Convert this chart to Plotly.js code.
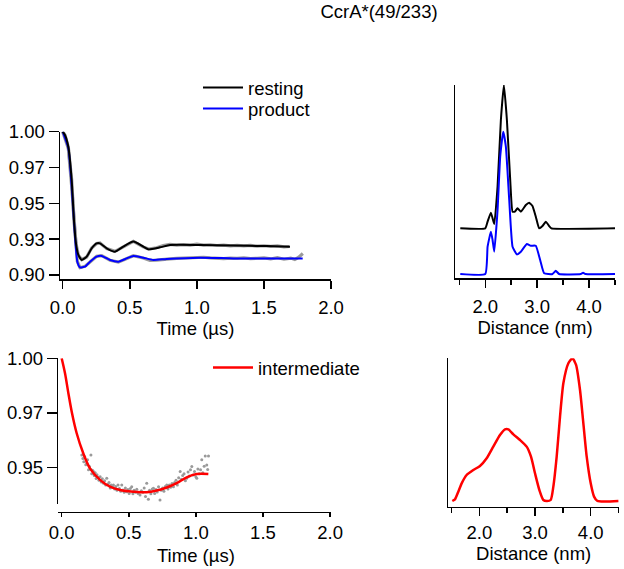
<!DOCTYPE html>
<html>
<head>
<meta charset="utf-8">
<script src="https://cdn.plot.ly/plotly-3.0.1.min.js"></script>
<style>html,body{margin:0;padding:0;background:#fff}#chart{width:624px;height:569px}</style>
</head>
<body>
<div id="chart"></div>
<script>
// ---- Top-left: time traces (resting / product) ----
const restFitT = [0, 0.017, 0.042, 0.067, 0.084, 0.099, 0.117, 0.142, 0.179, 0.216, 0.253, 0.278, 0.328, 0.39, 0.452, 0.527, 0.601, 0.639, 0.725, 0.8, 1.024, 1.272, 1.52, 1.694];
const restFitV = [1.0, 0.9977, 0.9895, 0.9663, 0.9384, 0.9221, 0.914, 0.9105, 0.9128, 0.9186, 0.9221, 0.9221, 0.9186, 0.9163, 0.9198, 0.9233, 0.9198, 0.9179, 0.9193, 0.9209, 0.9209, 0.9205, 0.9202, 0.9198];
const prodFitT = [0, 0.042, 0.067, 0.092, 0.109, 0.129, 0.166, 0.204, 0.253, 0.291, 0.353, 0.415, 0.477, 0.527, 0.601, 0.676, 0.775, 1.024, 1.272, 1.52, 1.789];
const prodFitV = [1.0, 0.9884, 0.9616, 0.9267, 0.9093, 0.9053, 0.9058, 0.9093, 0.9128, 0.9133, 0.9105, 0.9093, 0.9116, 0.9133, 0.9121, 0.9105, 0.9112, 0.9121, 0.9116, 0.9116, 0.9116];
const restDataT = [0, 0.017, 0.042, 0.067, 0.084, 0.099, 0.117, 0.142, 0.179, 0.216, 0.253, 0.278, 0.328, 0.39, 0.452, 0.527, 0.60, 0.64, 0.70, 0.75, 0.80, 0.85, 0.90, 0.95, 1.00, 1.05, 1.10, 1.15, 1.20, 1.25, 1.30, 1.35, 1.40, 1.45, 1.50, 1.55, 1.60, 1.65, 1.69];
const restDataV = [1.0, 0.9977, 0.9893, 0.9665, 0.9382, 0.9223, 0.9138, 0.9107, 0.9126, 0.9188, 0.9219, 0.9223, 0.9184, 0.9165, 0.9196, 0.9235, 0.9196, 0.9181, 0.9190, 0.9205, 0.9213, 0.9208, 0.9212, 0.9209, 0.9216, 0.9208, 0.9211, 0.9206, 0.9209, 0.9204, 0.9207, 0.9203, 0.9206, 0.9201, 0.9204, 0.9200, 0.9203, 0.9197, 0.9199];
const prodDataT = [0, 0.042, 0.067, 0.092, 0.109, 0.129, 0.166, 0.204, 0.253, 0.291, 0.353, 0.415, 0.477, 0.527, 0.60, 0.65, 0.70, 0.75, 0.80, 0.85, 0.90, 0.95, 1.00, 1.05, 1.10, 1.15, 1.20, 1.25, 1.30, 1.35, 1.40, 1.45, 1.50, 1.55, 1.60, 1.65, 1.70, 1.73, 1.76, 1.79];
const prodDataV = [1.0, 0.9882, 0.9618, 0.9265, 0.9095, 0.9051, 0.9060, 0.9091, 0.9130, 0.9135, 0.9103, 0.9090, 0.9118, 0.9135, 0.9119, 0.9102, 0.9104, 0.9110, 0.9113, 0.9116, 0.9118, 0.9121, 0.9120, 0.9124, 0.9119, 0.9116, 0.9114, 0.9118, 0.9116, 0.9120, 0.9114, 0.9117, 0.9119, 0.9112, 0.9121, 0.9110, 0.9118, 0.9108, 0.9125, 0.9150];

// ---- Top-right: distance distributions ----
const restDistR = [1.519, 2.0, 2.045, 2.109, 2.173, 2.237, 2.301, 2.359, 2.417, 2.481, 2.526, 2.571, 2.622, 2.686, 2.782, 2.846, 2.91, 2.974, 3.038, 3.103, 3.167, 3.231, 3.276, 4.5];
const restDistP = [0, 0, 0.047, 0.11, 0.03, 0.293, 0.761, 1.007, 0.761, 0.34, 0.117, 0.117, 0.141, 0.117, 0.164, 0.18, 0.157, 0.082, 0, 0.016, 0.047, 0.016, 0, 0];
const restOffset = 0.321;
const prodDistR = [1.519, 2.0, 2.045, 2.109, 2.141, 2.173, 2.237, 2.288, 2.346, 2.397, 2.462, 2.526, 2.609, 2.686, 2.801, 2.878, 2.974, 3.058, 3.135, 3.295, 3.359, 3.423, 3.84, 3.885, 3.93, 4.5];
const prodDistP = [0, 0, 0.192, 0.297, 0.239, 0.157, 0.45, 0.824, 1.0, 0.895, 0.52, 0.192, 0.138, 0.157, 0.211, 0.199, 0.199, 0.098, 0.005, 0, 0.023, 0, 0, 0.009, 0, 0];

// ---- Bottom-left: intermediate time trace ----
const interFitT = [0, 0.025, 0.05, 0.075, 0.112, 0.161, 0.211, 0.286, 0.36, 0.435, 0.534, 0.634, 0.708, 0.783, 0.857, 0.932, 1.006, 1.093];
const interFitV = [1.0, 0.9931, 0.984, 0.9755, 0.9656, 0.9564, 0.9495, 0.9442, 0.9411, 0.9396, 0.9388, 0.9385, 0.9393, 0.9407, 0.9427, 0.9454, 0.9469, 0.9469];
const interDataT = [0.150, 0.158, 0.165, 0.172, 0.180, 0.187, 0.193, 0.200, 0.207, 0.213, 0.218, 0.224, 0.230, 0.237, 0.243, 0.250, 0.257, 0.263, 0.270, 0.278, 0.287, 0.295, 0.303, 0.312, 0.320, 0.328, 0.336, 0.345, 0.353, 0.362, 0.370, 0.378, 0.386, 0.395, 0.403, 0.412, 0.420, 0.430, 0.440, 0.448, 0.457, 0.466, 0.475, 0.485, 0.494, 0.503, 0.512, 0.522, 0.531, 0.540, 0.550, 0.560, 0.570, 0.584, 0.594, 0.605, 0.615, 0.625, 0.634, 0.646, 0.655, 0.665, 0.675, 0.684, 0.693, 0.703, 0.712, 0.722, 0.733, 0.742, 0.752, 0.762, 0.772, 0.783, 0.792, 0.802, 0.812, 0.822, 0.833, 0.842, 0.852, 0.862, 0.872, 0.883, 0.892, 0.902, 0.912, 0.922, 0.932, 0.942, 0.951, 0.960, 0.970, 0.980, 0.990, 1.000, 1.007, 1.015, 1.025, 1.035, 1.044, 1.052, 1.062, 1.070, 1.081, 1.088, 1.094];
const interDataV = [0.9556, 0.9540, 0.9525, 0.9548, 0.9512, 0.9518, 0.9535, 0.9488, 0.9503, 0.9492, 0.9556, 0.9470, 0.9486, 0.9480, 0.9462, 0.9475, 0.9448, 0.9466, 0.9455, 0.9440, 0.9457, 0.9432, 0.9447, 0.9427, 0.9438, 0.9418, 0.9450, 0.9422, 0.9430, 0.9405, 0.9418, 0.9410, 0.9419, 0.9400, 0.9412, 0.9395, 0.9418, 0.9402, 0.9390, 0.9419, 0.9396, 0.9385, 0.9405, 0.9388, 0.9398, 0.9380, 0.9402, 0.9411, 0.9378, 0.9395, 0.9385, 0.9399, 0.9380, 0.9373, 0.9392, 0.9385, 0.9405, 0.9366, 0.9427, 0.9353, 0.9395, 0.9378, 0.9400, 0.9404, 0.9380, 0.9398, 0.9386, 0.9410, 0.9350, 0.9395, 0.9405, 0.9390, 0.9412, 0.9419, 0.9400, 0.9418, 0.9408, 0.9425, 0.9411, 0.9430, 0.9440, 0.9418, 0.9452, 0.9480, 0.9445, 0.9462, 0.9470, 0.9438, 0.9450, 0.9478, 0.9460, 0.9488, 0.9503, 0.9465, 0.9480, 0.9456, 0.9450, 0.9492, 0.9470, 0.9488, 0.9534, 0.9475, 0.9505, 0.9552, 0.9510, 0.9490, 0.9552];

// ---- Bottom-right: intermediate distance distribution ----
const interDistR = [1.515, 1.563, 1.623, 1.683, 1.772, 1.892, 2.012, 2.132, 2.251, 2.371, 2.461, 2.521, 2.611, 2.731, 2.85, 2.928, 3.0, 3.078, 3.15, 3.21, 3.281, 3.329, 3.389, 3.449, 3.509, 3.599, 3.671, 3.737, 3.808, 3.868, 3.928, 4.0, 4.06, 4.12, 4.497];
const interDistP = [0, 0.0117, 0.0654, 0.1238, 0.1822, 0.2173, 0.2453, 0.2991, 0.3808, 0.4626, 0.5023, 0.5023, 0.4673, 0.4276, 0.3808, 0.3107, 0.1939, 0.0771, 0.007, 0, 0.007, 0.1005, 0.3107, 0.5911, 0.8248, 0.965, 1.0, 0.9533, 0.778, 0.5444, 0.3107, 0.1238, 0.0304, 0, 0];

// ---- Tick labels ----
const timeTicks = [0, 0.5, 1.0, 1.5, 2.0];
const timeTickText = ["0.0", "0.5", "1.0", "1.5", "2.0"];
const topYTicks = [0.9, 0.925, 0.95, 0.975, 1.0];
const topYTickText = ["0.90", "0.93", "0.95", "0.97", "1.00"];
const botYTicks = [0.95, 0.975, 1.0];
const botYTickText = ["0.95", "0.97", "1.00"];
const distTicks = [2, 3, 4];
const distTickText = ["2.0", "3.0", "4.0"];
const distMinorTicks = [1.5, 2.5, 3.5, 4.5];

const W = 624, H = 569;
const px = v => v / W;
const py = v => 1 - v / H;

const FONT = "Liberation Sans, Arial, sans-serif";
const FS = 18.5;
const GREY = "#9a9a9a";

const traces = [
  {x: restDataT, y: restDataV, xaxis: 'x', yaxis: 'y', mode: 'lines', line: {color: GREY, width: 3.2}, showlegend: false, hoverinfo: 'skip'},
  {x: prodDataT, y: prodDataV, xaxis: 'x', yaxis: 'y', mode: 'lines', line: {color: GREY, width: 3.2}, showlegend: false, hoverinfo: 'skip'},
  {x: prodFitT, y: prodFitV, xaxis: 'x', yaxis: 'y', mode: 'lines', line: {color: '#0000ff', width: 2, shape: 'spline', smoothing: 0.5}, name: 'product', legend: 'legend3'},
  {x: restFitT, y: restFitV, xaxis: 'x', yaxis: 'y', mode: 'lines', line: {color: '#000000', width: 2, shape: 'spline', smoothing: 0.5}, name: 'resting', legend: 'legend'},
  {x: restDistR, y: restDistP.map(v => v + restOffset), xaxis: 'x2', yaxis: 'y2', mode: 'lines', line: {color: '#000000', width: 2, shape: 'spline', smoothing: 0.4}, showlegend: false},
  {x: prodDistR, y: prodDistP, xaxis: 'x2', yaxis: 'y2', mode: 'lines', line: {color: '#0000ff', width: 2, shape: 'spline', smoothing: 0.4}, showlegend: false},
  {x: interDataT, y: interDataV, xaxis: 'x3', yaxis: 'y3', mode: 'markers', marker: {color: GREY, size: 3}, showlegend: false, hoverinfo: 'skip'},
  {x: interFitT, y: interFitV, xaxis: 'x3', yaxis: 'y3', mode: 'lines', line: {color: '#ff0000', width: 2.5, shape: 'spline'}, name: 'intermediate', legend: 'legend2'},
  {x: interDistR, y: interDistP, xaxis: 'x4', yaxis: 'y4', mode: 'lines', line: {color: '#ff0000', width: 2.5, shape: 'spline', smoothing: 0.6}, showlegend: false}
];

const axBase = {
  showgrid: false, zeroline: false, showline: true, linecolor: '#000', linewidth: 1.5,
  ticks: 'outside', ticklen: 8, tickwidth: 1.5, tickcolor: '#000',
  tickfont: {family: FONT, size: FS, color: '#000'}, fixedrange: true
};
const titleFont = {family: FONT, size: FS, color: '#000'};
const minorDist = {tickvals: distMinorTicks, ticklen: 5, tickwidth: 1.5, tickcolor: '#000', ticks: 'outside'};
const legBase = {xanchor: 'left', yanchor: 'middle', bgcolor: 'rgba(0,0,0,0)', font: {family: FONT, size: FS, color: '#000'}, itemwidth: 40, borderwidth: 0};

const layout = {
  width: W, height: H,
  margin: {l: 0, r: 0, t: 0, b: 0},
  paper_bgcolor: '#fff', plot_bgcolor: 'rgba(0,0,0,0)',
  font: {family: FONT, size: FS, color: '#000'},
  showlegend: true,
  title: {text: 'CcrA*(49/233)', font: {family: FONT, size: FS, color: '#000'}, x: 379 / W, xanchor: 'center', y: 1 - 12 / H, yanchor: 'middle'},
  xaxis: Object.assign({}, axBase, {domain: [px(60), px(331)], range: [-0.02, 2.0], anchor: 'y', tickvals: timeTicks, ticktext: timeTickText, ticklabelstandoff: 3, title: {text: 'Time (µs)', font: titleFont, standoff: 4}}),
  yaxis: Object.assign({}, axBase, {domain: [py(279.3), py(131.7)], range: [0.897, 1.0], anchor: 'x', tickvals: topYTicks, ticktext: topYTickText, ticklen: 10}),
  xaxis2: Object.assign({}, axBase, {domain: [px(455), px(615)], range: [1.417, 4.5], anchor: 'y2', tickvals: distTicks, ticktext: distTickText, minor: minorDist, ticklabelstandoff: 3, title: {text: 'Distance (nm)', font: titleFont, standoff: 4}}),
  yaxis2: Object.assign({}, axBase, {domain: [py(278.3), py(85)], range: [-0.03, 1.328], anchor: 'x2', ticks: '', showticklabels: false}),
  xaxis3: Object.assign({}, axBase, {domain: [px(58.3), px(331)], range: [-0.025, 2.007], anchor: 'free', position: py(511.5), tickvals: timeTicks, ticktext: timeTickText, ticklen: 4, ticklabelstandoff: 0}),
  yaxis3: Object.assign({}, axBase, {domain: [py(504.3), py(358.3)], range: [0.933, 1.0], anchor: 'x3', tickvals: botYTicks, ticktext: botYTickText, ticklen: 10}),
  xaxis4: Object.assign({}, axBase, {domain: [px(448.3), px(619)], range: [1.443, 4.508], anchor: 'y4', tickvals: distTicks, ticktext: distTickText, minor: minorDist, ticklabelstandoff: 1, title: {text: 'Distance (nm)', font: titleFont, standoff: 4}}),
  yaxis4: Object.assign({}, axBase, {domain: [py(506.7), py(358.3)], range: [-0.04, 1.0], anchor: 'x4', ticks: '', showticklabels: false}),
  legend: Object.assign({}, legBase, {x: px(198), y: py(88)}),
  legend3: Object.assign({}, legBase, {x: px(198), y: py(109)}),
  legend2: Object.assign({}, legBase, {x: px(208), y: py(368)}),
  annotations: [
    {text: 'Time (µs)', xref: 'paper', yref: 'paper', x: px(196), y: py(555.5), xanchor: 'center', yanchor: 'middle', showarrow: false, font: titleFont}
  ]
};

Plotly.newPlot('chart', traces, layout, {staticPlot: true, displayModeBar: false});
</script>
</body>
</html>
